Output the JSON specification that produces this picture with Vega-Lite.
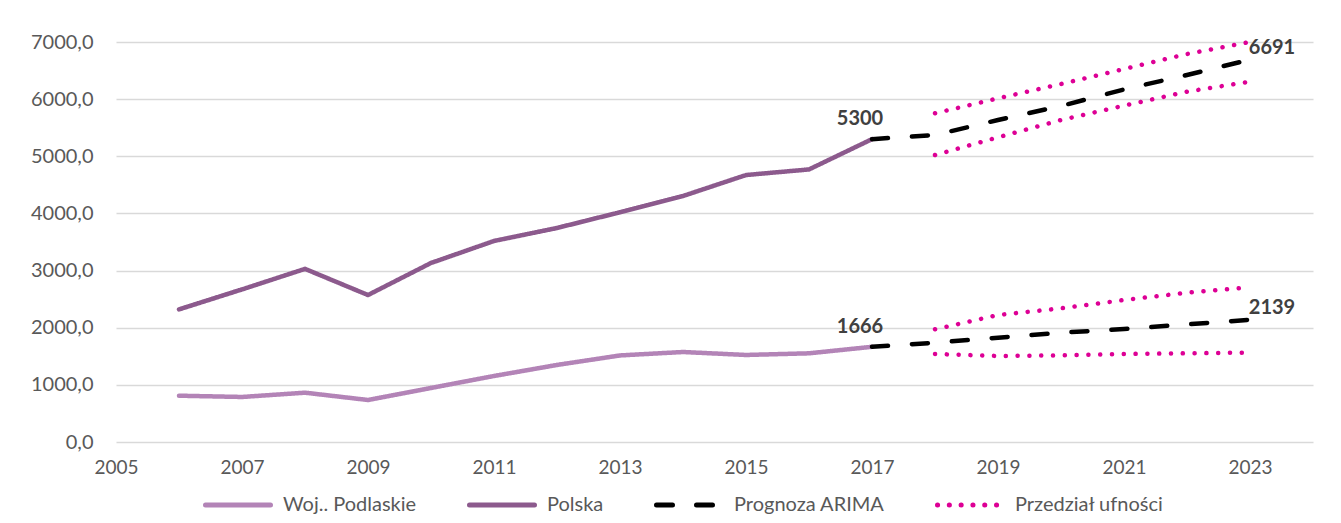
{
  "$schema": "https://vega.github.io/schema/vega-lite/v6.json",
  "autosize": "none",
  "width": 1197,
  "height": 400,
  "padding": {"left": 116, "top": 42, "right": 28, "bottom": 81},
  "background": "white",
  "config": {
    "font": "Lato",
    "view": {"stroke": null},
    "axis": {"labelFont": "Lato", "labelFontSize": 19, "labelColor": "#595959", "titleFont": "Lato"},
    "legend": {"labelFont": "Lato", "labelFontSize": 20, "labelColor": "#595959"}
  },
  "data": {
    "values": [
      {"year": 2006, "v": 810, "s": "Woj.. Podlaskie", "l": "POD"},
      {"year": 2007, "v": 788, "s": "Woj.. Podlaskie", "l": "POD"},
      {"year": 2008, "v": 863, "s": "Woj.. Podlaskie", "l": "POD"},
      {"year": 2009, "v": 735, "s": "Woj.. Podlaskie", "l": "POD"},
      {"year": 2010, "v": 945, "s": "Woj.. Podlaskie", "l": "POD"},
      {"year": 2011, "v": 1155, "s": "Woj.. Podlaskie", "l": "POD"},
      {"year": 2012, "v": 1348, "s": "Woj.. Podlaskie", "l": "POD"},
      {"year": 2013, "v": 1515, "s": "Woj.. Podlaskie", "l": "POD"},
      {"year": 2014, "v": 1575, "s": "Woj.. Podlaskie", "l": "POD"},
      {"year": 2015, "v": 1523, "s": "Woj.. Podlaskie", "l": "POD"},
      {"year": 2016, "v": 1552, "s": "Woj.. Podlaskie", "l": "POD"},
      {"year": 2017, "v": 1666, "s": "Woj.. Podlaskie", "l": "POD"},
      {"year": 2006, "v": 2320, "s": "Polska", "l": "PL"},
      {"year": 2007, "v": 2670, "s": "Polska", "l": "PL"},
      {"year": 2008, "v": 3030, "s": "Polska", "l": "PL"},
      {"year": 2009, "v": 2572, "s": "Polska", "l": "PL"},
      {"year": 2010, "v": 3133, "s": "Polska", "l": "PL"},
      {"year": 2011, "v": 3518, "s": "Polska", "l": "PL"},
      {"year": 2012, "v": 3745, "s": "Polska", "l": "PL"},
      {"year": 2013, "v": 4020, "s": "Polska", "l": "PL"},
      {"year": 2014, "v": 4305, "s": "Polska", "l": "PL"},
      {"year": 2015, "v": 4672, "s": "Polska", "l": "PL"},
      {"year": 2016, "v": 4770, "s": "Polska", "l": "PL"},
      {"year": 2017, "v": 5300, "s": "Polska", "l": "PL"},
      {"year": 2017, "v": 5300, "s": "Prognoza ARIMA", "l": "A-PL"},
      {"year": 2018, "v": 5373, "s": "Prognoza ARIMA", "l": "A-PL"},
      {"year": 2019, "v": 5635, "s": "Prognoza ARIMA", "l": "A-PL"},
      {"year": 2020, "v": 5880, "s": "Prognoza ARIMA", "l": "A-PL"},
      {"year": 2021, "v": 6170, "s": "Prognoza ARIMA", "l": "A-PL"},
      {"year": 2022, "v": 6423, "s": "Prognoza ARIMA", "l": "A-PL"},
      {"year": 2023, "v": 6691, "s": "Prognoza ARIMA", "l": "A-PL"},
      {"year": 2017, "v": 1666, "s": "Prognoza ARIMA", "l": "A-POD"},
      {"year": 2018, "v": 1738, "s": "Prognoza ARIMA", "l": "A-POD"},
      {"year": 2019, "v": 1826, "s": "Prognoza ARIMA", "l": "A-POD"},
      {"year": 2020, "v": 1913, "s": "Prognoza ARIMA", "l": "A-POD"},
      {"year": 2021, "v": 1977, "s": "Prognoza ARIMA", "l": "A-POD"},
      {"year": 2022, "v": 2058, "s": "Prognoza ARIMA", "l": "A-POD"},
      {"year": 2023, "v": 2139, "s": "Prognoza ARIMA", "l": "A-POD"},
      {"year": 2018, "v": 5752, "s": "Przedział ufności", "l": "U-PL"},
      {"year": 2019, "v": 6014, "s": "Przedział ufności", "l": "U-PL"},
      {"year": 2020, "v": 6265, "s": "Przedział ufności", "l": "U-PL"},
      {"year": 2021, "v": 6527, "s": "Przedział ufności", "l": "U-PL"},
      {"year": 2022, "v": 6790, "s": "Przedział ufności", "l": "U-PL"},
      {"year": 2023, "v": 7000, "s": "Przedział ufności", "l": "U-PL"},
      {"year": 2018, "v": 5022, "s": "Przedział ufności", "l": "L-PL"},
      {"year": 2019, "v": 5332, "s": "Przedział ufności", "l": "L-PL"},
      {"year": 2020, "v": 5635, "s": "Przedział ufności", "l": "L-PL"},
      {"year": 2021, "v": 5886, "s": "Przedział ufności", "l": "L-PL"},
      {"year": 2022, "v": 6131, "s": "Przedział ufności", "l": "L-PL"},
      {"year": 2023, "v": 6306, "s": "Przedział ufności", "l": "L-PL"},
      {"year": 2018, "v": 1972, "s": "Przedział ufności", "l": "U-POD"},
      {"year": 2019, "v": 2222, "s": "Przedział ufności", "l": "U-POD"},
      {"year": 2020, "v": 2339, "s": "Przedział ufności", "l": "U-POD"},
      {"year": 2021, "v": 2485, "s": "Przedział ufności", "l": "U-POD"},
      {"year": 2022, "v": 2613, "s": "Przedział ufności", "l": "U-POD"},
      {"year": 2023, "v": 2707, "s": "Przedział ufności", "l": "U-POD"},
      {"year": 2018, "v": 1540, "s": "Przedział ufności", "l": "L-POD"},
      {"year": 2019, "v": 1505, "s": "Przedział ufności", "l": "L-POD"},
      {"year": 2020, "v": 1517, "s": "Przedział ufności", "l": "L-POD"},
      {"year": 2021, "v": 1540, "s": "Przedział ufności", "l": "L-POD"},
      {"year": 2022, "v": 1552, "s": "Przedział ufności", "l": "L-POD"},
      {"year": 2023, "v": 1564, "s": "Przedział ufności", "l": "L-POD"}
    ]
  },
  "encoding": {
    "x": {
      "field": "year", "type": "quantitative",
      "scale": {"domain": [2005, 2024], "nice": false, "zero": false},
      "axis": {
        "title": null, "grid": false, "ticks": false, "domain": false,
        "values": [2005, 2007, 2009, 2011, 2013, 2015, 2017, 2019, 2021, 2023],
        "format": "d", "labelPadding": 16, "labelFlush": false
      }
    },
    "y": {
      "field": "v", "type": "quantitative",
      "scale": {"domain": [0, 7000], "nice": false},
      "axis": {
        "title": null, "grid": true, "gridColor": "#d9d9d9", "gridWidth": 1.3,
        "ticks": false, "domain": false,
        "values": [0, 1000, 2000, 3000, 4000, 5000, 6000, 7000],
        "labelExpr": "replace(format(datum.value, '.1f'), '.', ',')",
        "labelPadding": 23, "labelFontSize": 20
      }
    }
  },
  "layer": [
    {
      "mark": {"type": "line", "strokeWidth": 4.5, "strokeCap": "round", "strokeJoin": "round"},
      "encoding": {
        "detail": {"field": "l"},
        "color": {
          "field": "s", "type": "nominal",
          "scale": {
            "domain": ["Woj.. Podlaskie", "Polska", "Prognoza ARIMA", "Przedział ufności"],
            "range": ["#B384B7", "#8C5A8D", "#000000", "#DD0095"]
          },
          "legend": {
            "title": null, "orient": "none", "direction": "horizontal",
            "legendX": 87, "legendY": 428, "gridAlign": "none", "columnPadding": 42,
            "symbolType": "stroke", "symbolSize": 4225, "symbolStrokeWidth": 5,
            "labelOffset": 10,
            "encode": {"symbols": {"update": {"strokeCap": {"value": "round"}}}}
          }
        },
        "strokeDash": {
          "field": "s", "type": "nominal",
          "scale": {
            "domain": ["Woj.. Podlaskie", "Polska", "Prognoza ARIMA", "Przedział ufności"],
            "range": [[1, 0], [1, 0], [16, 24], [0.1, 11.7]]
          },
          "legend": null
        }
      }
    },
    {
      "transform": [{"filter": "datum.s == 'Prognoza ARIMA' && datum.year == 2017"}],
      "mark": {"type": "text", "font": "Lato", "fontWeight": "bold", "fontSize": 20, "color": "#404040", "dx": -12, "dy": -20},
      "encoding": {"text": {"field": "v", "type": "quantitative", "format": "d"}}
    },
    {
      "transform": [{"filter": "datum.s == 'Prognoza ARIMA' && datum.year == 2023"}],
      "mark": {"type": "text", "font": "Lato", "fontWeight": "bold", "fontSize": 20, "color": "#404040", "dx": 22, "dy": -12},
      "encoding": {"text": {"field": "v", "type": "quantitative", "format": "d"}}
    }
  ]
}
